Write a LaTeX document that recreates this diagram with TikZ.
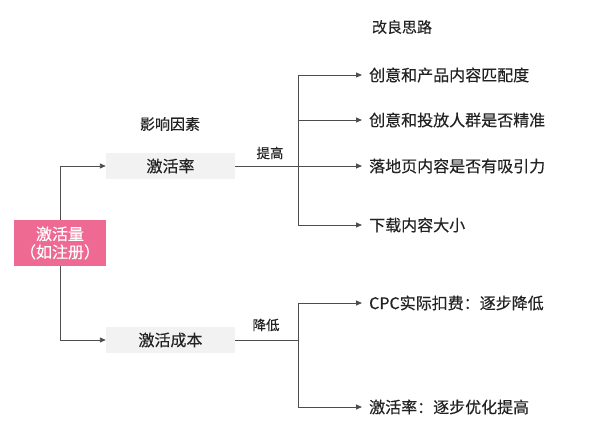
\documentclass[tikz,border=0pt]{standalone}
\usepackage{fontspec}
\setmainfont{Noto Sans CJK SC}[FakeBold=0.3]
\usepackage{xcolor}
\usetikzlibrary{arrows.meta,positioning}
\definecolor{rootpink}{HTML}{EE6A92}
\definecolor{boxgray}{HTML}{F2F2F2}
\definecolor{txtgray}{HTML}{222222}
\definecolor{linegray}{HTML}{4D4D4D}
\tikzset{edge/.style={color=linegray, line width=0.9pt},
    arr/.style={edge, -{Triangle[length=6pt,width=5pt]}},
    factor/.style={fill=boxgray, minimum width=129pt, minimum height=26pt, inner sep=0pt, font=\fontsize{16}{18}\selectfont, text=txtgray},
    idea/.style={anchor=west, inner xsep=7pt, inner ysep=0pt, font=\fontsize{16}{18}\selectfont, text=txtgray},
    tag/.style={font=\fontsize{13.5}{16}\selectfont, text=txtgray}}

\begin{document}
\begin{tikzpicture}[x=1pt, y=-1pt]
                \useasboundingbox (0,0) rectangle (598,431);

                % titles
                \node [tag, font=\fontsize{15}{18}\selectfont] (htitle) at (170,124) {影响因素};
                \node [tag, font=\fontsize{15}{18}\selectfont] (ititle) at (402,27) {改良思路};

                % root
                \node [fill=rootpink, text=white, minimum width=92pt, minimum height=46pt, inner sep=0pt,
                    align=center, font=\fontsize{16}{18}\selectfont] (root) at (60,243) {激活量\\（如注册）};

                % factors
                \node [factor] (rate) at (170.5,166) {激活率};
                \node [factor] (cost) at (170.5,340) {激活成本};

                \coordinate (j1) at (298,166);
                \coordinate (j2) at (298,340);

                % ideas
                \node [idea] (r1) at (362,75) {创意和产品内容匹配度};
                \node [idea] (r2) at (362,120) {创意和投放人群是否精准};
                \node [idea] (r3) at (362,166) {落地页内容是否有吸引力};
                \node [idea] (r4) at (362,225) {下载内容大小};
                \node [idea] (c1) at (362,303) {CPC实际扣费：逐步降低};
                \node [idea] (c2) at (362,407) {激活率：逐步优化提高};

                \node [tag] (up) at (270,153) {提高};
                \node [tag] (down) at (266,325) {降低};

                \draw [arr] (root.north) |- (rate.west);
                \draw [arr] (root.south) |- (cost.west);

                \draw [edge] (rate.east) -- (j1);
                \draw [edge] (cost.east) -- (j2);
                \path [arr] (j1) edge [to path={|- (\tikztotarget)}] (r1.west)
                    edge [to path={|- (\tikztotarget)}] (r2.west)
                    edge (r3.west)
                    edge [to path={|- (\tikztotarget)}] (r4.west);
                \path [arr] (j2) edge [to path={|- (\tikztotarget)}] (c1.west)
                    edge [to path={|- (\tikztotarget)}] (c2.west);

            \end{tikzpicture}
\end{document}
